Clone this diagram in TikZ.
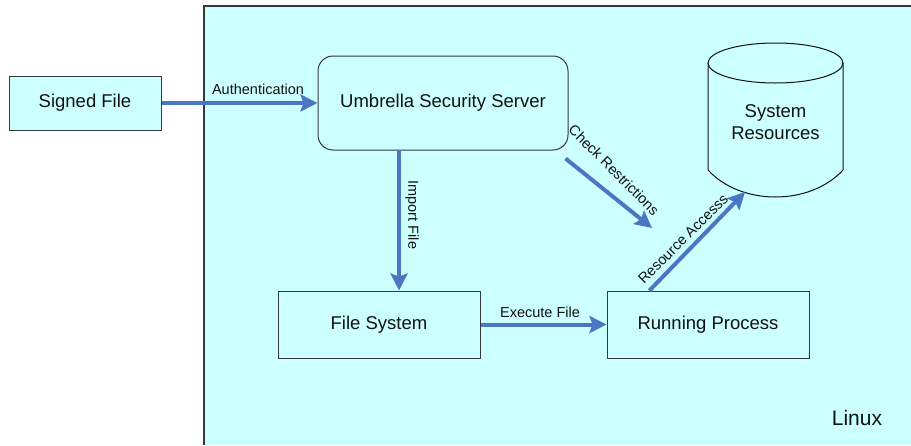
\documentclass[tikz,border=0pt]{standalone}
\usepackage{fontspec}
\setmainfont{Liberation Sans}
\usetikzlibrary{arrows.meta}
\definecolor{zonefill}{HTML}{CCFFFF}
\definecolor{flowblue}{HTML}{4A76C4}
\definecolor{edge}{HTML}{383838}
\definecolor{ink}{HTML}{111111}
\tikzset{
  box/.style={draw=edge, line width=1pt, fill=zonefill, text=ink,
    font=\fontsize{18.5}{22}\selectfont, inner sep=0pt},
  flow/.style={draw=flowblue, line width=4pt,
    -{Stealth[length=17pt,width=17pt,inset=3pt]}},
  lbl/.style={text=ink, font=\fontsize{14.5}{17}\selectfont, inner sep=0pt},
}
\begin{document}
\begin{tikzpicture}[x=1pt,y=-1pt]
\useasboundingbox (0,0) rectangle (911,445);
\fill[white] (0,0) rectangle (911,445);

% Linux area
\fill[zonefill] (204,6) rectangle (911,445);
\draw[edge, line width=1.2pt] (204,445) -- (204,6) -- (911,6);
\node[text=ink, font=\fontsize{21}{25}\selectfont, inner sep=0pt] (linux) at (857,418) {Linux};

% boxes
\node[box, minimum width=152, minimum height=54] (signed) at (85,103) {Signed File};
\node[box, rounded corners=15pt, minimum width=250, minimum height=94] (umbrella) at (443,103) {Umbrella Security Server};
\node[box, minimum width=202, minimum height=67] (fs) at (379,324.5) {File System};
\node[box, minimum width=202, minimum height=67] (rp) at (708,324.5) {Running Process};

% system resources cylinder
\draw[draw=ink, line width=1pt, fill=zonefill]
  (708,63) -- (708,170) .. controls (741,206) and (810,206) .. (843,170) -- (843,63);
\draw[draw=ink, line width=1pt, fill=zonefill] (775.5,63) ellipse [x radius=67.5, y radius=20];
\node[text=ink, font=\fontsize{18.5}{22}\selectfont, align=center, inner sep=0pt] (sysres) at (775.5,122) {System\\Resources};

% connector ends
\coordinate (checkend) at (652,228);
\coordinate (accessend) at (745,192);

% connectors
\draw[flow] (signed.east) -- (umbrella.west);
\draw[flow] ([xshift=-44pt]umbrella.south) -- ([xshift=20pt]fs.north);
\draw[flow] (fs.east) -- (rp.west);
\draw[flow] ([xshift=-3pt,yshift=-8pt]umbrella.south east) -- (checkend);
\draw[flow] ([xshift=43pt]rp.north west) -- (accessend);

% connector labels
\node[lbl] (lauth) at (258,89) {Authentication};
\node[lbl, rotate=-90] (limport) at (412,215) {Import File};
\node[lbl] (lexec) at (540,312) {Execute File};
\node[lbl, rotate=-45] (lcheck) at (614,170) {Check Restrictions};
\node[lbl, rotate=45] (laccess) at (683,239) {Resource Accesss};
\end{tikzpicture}
\end{document}
